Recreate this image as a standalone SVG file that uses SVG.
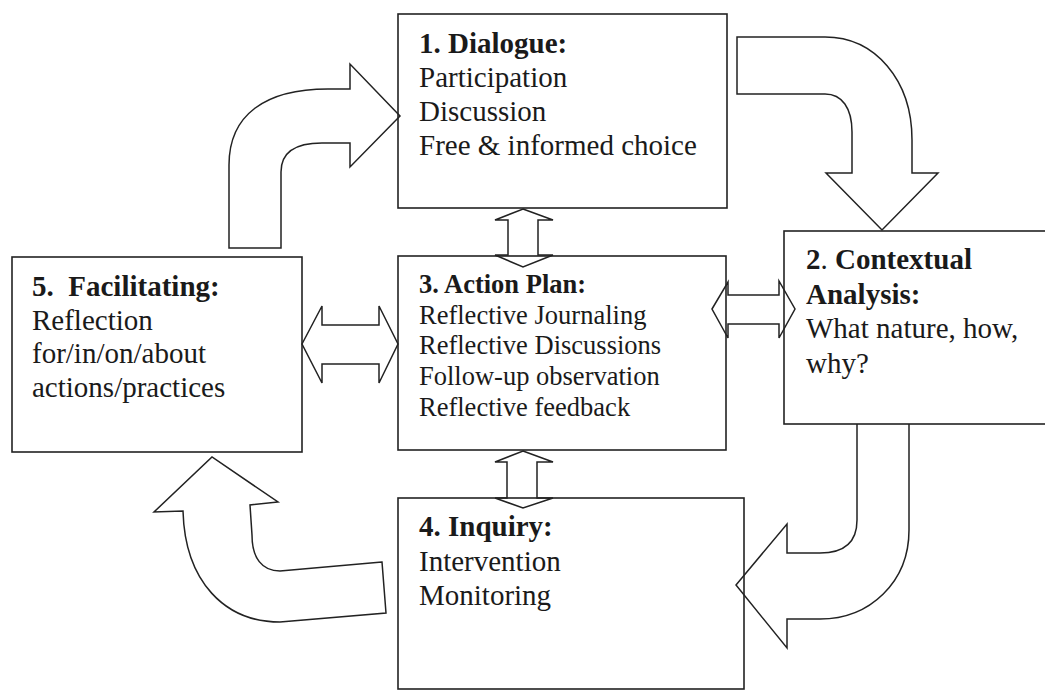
<svg xmlns="http://www.w3.org/2000/svg" width="1045" height="690" viewBox="0 0 1045 690">
<style>
.box{fill:none;stroke:#222;stroke-width:1.6}
.arr{fill:none;stroke:#222;stroke-width:1.5;stroke-linejoin:miter}
text{font-family:"Liberation Serif","Times New Roman",serif;fill:#1a1a1a}
.t{font-size:29px}
.s{font-size:26.5px}
.b{font-weight:bold}
</style>
<rect width="1045" height="690" fill="#fff"/>
<g id="connectors">
<path class="arr" d="M229,248 L229,165 C229,115 265,89 328,89 L350,89 L350,64 L400,116 L350,167 L350,143 L322,143 C296,143 281,152 281,172 L281,248 Z"/>
<path class="arr" d="M737,37 L825,37 C875,37 912,80 912,140 L912,173 L938,173 L882,230 L826,173 L852,173 L852,132 C852,108 842,94 825,94 L737,94 Z"/>
<path class="arr" d="M857,424 L857,520 C857,542 845,553 820,553 L787,553 L787,524 L736,585 L787,648 L787,619 L820,619 C870,619 909,582 909,530 L909,424"/>
<path class="arr" d="M382,562 L280,571 C262,571 252,558 252,535 L250,505 L278,502 L212,457 L154,512 L183,511 C185,582 225,622 280,622 L386,613 Z"/>
<path class="arr" d="M523,209 L553,220 L538,220 L538,255 L553,255 L523,267 L495,255 L508,255 L508,220 L495,220 Z"/>
<path class="arr" d="M523,451 L553,462 L537,462 L537,498 L553,498 L523,508 L495,498 L507,498 L507,462 L495,462 Z"/>
<path class="arr" d="M302,344 L322,306 L322,325 L379,325 L379,306 L398,344 L379,383 L379,364 L322,364 L322,383 Z"/>
<path class="arr" d="M712,309 L728,282 L728,295 L779,295 L779,281 L795,309 L779,338 L779,324 L728,324 L728,338 Z"/>
</g>
<g id="n1">
<rect class="box" x="398" y="14" width="329" height="194"/>
<text class="t" x="419" y="53"><tspan class="b">1. Dialogue:</tspan><tspan x="419" dy="34">Participation</tspan><tspan x="419" dy="34">Discussion</tspan><tspan x="419" dy="34">Free &amp; informed choice</tspan></text>
</g>
<g id="n2">
<rect class="box" x="784" y="231" width="270" height="193"/>
<text class="t" x="806" y="269"><tspan class="b">2</tspan>.<tspan class="b"> Contextual</tspan><tspan class="b" x="806" dy="34.5">Analysis:</tspan><tspan x="806" dy="34.5">What nature, how,</tspan><tspan x="806" dy="34.5">why?</tspan></text>
</g>
<g id="n3">
<rect class="box" x="398" y="256" width="328" height="194"/>
<text class="s" x="419" y="293"><tspan class="b">3. Action Plan:</tspan><tspan x="419" dy="30.7">Reflective Journaling</tspan><tspan x="419" dy="30.7">Reflective Discussions</tspan><tspan x="419" dy="30.7">Follow-up observation</tspan><tspan x="419" dy="30.7">Reflective feedback</tspan></text>
</g>
<g id="n4">
<rect class="box" x="398" y="498" width="346" height="191"/>
<text class="t" x="419" y="536"><tspan class="b">4. Inquiry:</tspan><tspan x="419" dy="34.5">Intervention</tspan><tspan x="419" dy="34.5">Monitoring</tspan></text>
</g>
<g id="n5">
<rect class="box" x="12" y="257" width="290" height="195"/>
<text class="t" x="32" y="296" xml:space="preserve"><tspan class="b">5.  Facilitating:</tspan><tspan x="32" dy="33.7">Reflection</tspan><tspan x="32" dy="33.7">for/in/on/about</tspan><tspan x="32" dy="33.7">actions/practices</tspan></text>
</g>
</svg>
